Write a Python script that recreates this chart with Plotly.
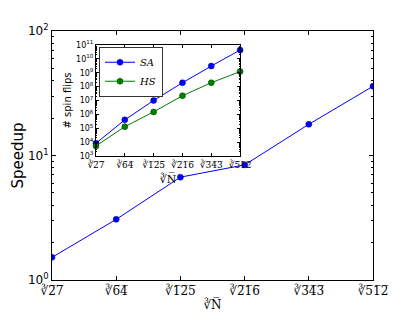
import plotly.graph_objects as go

# ---- data ----
x_vals = [3, 4, 5, 6, 7, 8]
x_labels = ["∛2̅7̅", "∛6̅4̅", "∛1̅2̅5̅", "∛2̅1̅6̅", "∛3̅4̅3̅", "∛5̅1̅2̅"]
speedup = [1.52, 3.07, 6.7, 8.4, 17.8, 36.0]
sa_flips = [8.3e3, 4.0e5, 1.0e7, 1.9e8, 3.0e9, 4.3e10]
hs_flips = [5.3e3, 1.3e5, 1.5e6, 2.2e7, 1.9e8, 1.2e9]

main_yticks = [1, 10, 100]
main_yticklabels = ["10<sup>0</sup>", "10<sup>1</sup>", "10<sup>2</sup>"]
inset_yticks = [10 ** k for k in range(3, 12)]
inset_yticklabels = ["10<sup>%d</sup>" % k for k in range(3, 12)]

BLUE = "#0000ff"
GREEN = "#007f00"
FONT = "DejaVu Sans"

fig = go.Figure()

fig.add_trace(go.Scatter(
    x=x_vals, y=speedup, mode="lines+markers", showlegend=False,
    line=dict(color=BLUE, width=1),
    marker=dict(color=BLUE, size=6, line=dict(color="#00007f", width=0.5)),
    xaxis="x", yaxis="y"))

fig.add_trace(go.Scatter(
    x=x_vals, y=sa_flips, mode="lines+markers", name="<i>SA</i>",
    line=dict(color=BLUE, width=1),
    marker=dict(color=BLUE, size=6, line=dict(color="#00007f", width=0.5)),
    xaxis="x2", yaxis="y2", cliponaxis=False))

fig.add_trace(go.Scatter(
    x=x_vals, y=hs_flips, mode="lines+markers", name="<i>HS</i>",
    line=dict(color=GREEN, width=1),
    marker=dict(color=GREEN, size=6, line=dict(color="#003f00", width=0.5)),
    xaxis="x2", yaxis="y2", cliponaxis=False))

axis_common = dict(showline=True, linecolor="black", linewidth=1, mirror="allticks",
                   showgrid=False, zeroline=False, ticks="inside", tickcolor="black",
                   automargin=False)

fig.update_layout(
    width=415, height=312,
    margin=dict(l=52, r=42, t=31, b=32),
    paper_bgcolor="white", plot_bgcolor="white",
    font=dict(family=FONT, color="black"),
    xaxis=dict(domain=[0, 1], range=[3, 8], tickvals=x_vals, ticktext=x_labels,
               ticklen=4, tickfont=dict(size=12, family="DejaVu Serif"),
               title=dict(text="∛N̅", font=dict(size=12, family="DejaVu Serif"), standoff=6),
               **axis_common),
    yaxis=dict(domain=[0, 1], type="log", range=[0, 2], tickvals=main_yticks,
               ticktext=main_yticklabels, ticklen=4, tickfont=dict(size=12),
               minor=dict(ticks="inside", ticklen=2, tickcolor="black", dtick="D1"),
               title=dict(text="Speedup", font=dict(size=15), standoff=0),
               **axis_common),
    xaxis2=dict(domain=[0.137, 0.586], range=[3, 8], anchor="y2", tickvals=x_vals,
                ticktext=x_labels, ticklen=3, tickfont=dict(size=9, family="DejaVu Serif"),
                title=dict(text="∛N̅", font=dict(size=11, family="DejaVu Serif"), standoff=6),
                **axis_common),
    yaxis2=dict(domain=[0.498, 0.944], type="log", range=[3, 11], anchor="x2",
                tickvals=inset_yticks, ticktext=inset_yticklabels, ticklen=3,
                tickfont=dict(size=8),
                minor=dict(ticks="inside", ticklen=1.5, tickcolor="black", dtick="D1"),
                title=dict(text="# spin flips", font=dict(size=10), standoff=2),
                **axis_common),
    legend=dict(x=0.147, y=0.936, xanchor="left", yanchor="top",
                bgcolor="white", bordercolor="black", borderwidth=0.8,
                font=dict(size=10, family="DejaVu Serif"),
                itemwidth=30, tracegroupgap=0),
)

fig.write_html("out.html", post_script="document.body.style.margin='0';",
               config={"displayModeBar": False})
